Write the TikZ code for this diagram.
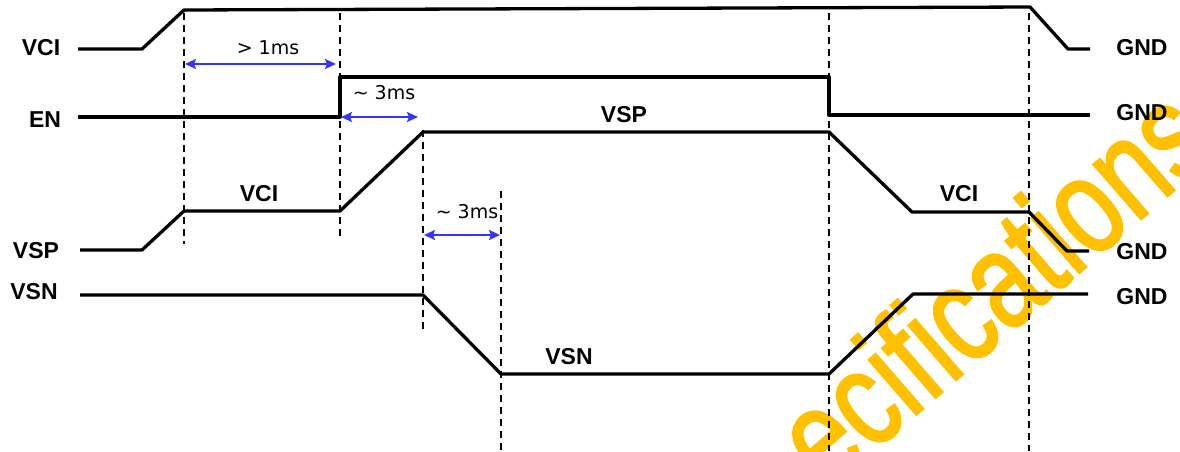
\documentclass[tikz,border=0pt]{standalone}
\usepackage{fontspec}
\setmainfont{Liberation Sans}
\newfontfamily\dejavu{DejaVu Sans}
\usetikzlibrary{arrows.meta}
\definecolor{arrowblue}{HTML}{3535FF}
\definecolor{wmark}{HTML}{FFC000}
\newcommand{\heavytext}[1]{\special{pdf:literal direct 2 Tr 2 w}#1\special{pdf:literal direct 0 Tr}}
\begin{document}
\begin{tikzpicture}[x=1pt,y=-1pt,
  sig/.style={line width=3.3pt, line join=round},
  guide/.style={line width=2pt, dash pattern=on 7pt off 5pt},
  dim/.style={arrowblue, line width=2pt, {Stealth[length=11pt,width=10pt,inset=2pt]}-{Stealth[length=11pt,width=10pt,inset=2pt]}},
  lbl/.style={font=\bfseries\fontsize{23}{23}\selectfont, inner sep=0pt},
  tlbl/.style={font=\dejavu\fontsize{19}{19}\selectfont, inner sep=0pt},
  wm/.style={font=\fontsize{105}{105}\selectfont, text=wmark, inner sep=0pt}]
\useasboundingbox (0,0) rectangle (1180,451);
% watermark
\begin{scope}
  \clip (0,0) rectangle (1180,451);
  \begin{scope}[shift={(827,492)}, rotate=41, yscale=1.3]
    \node[wm, anchor=base west, transform shape] (wmtext) at (0,0) {\heavytext{ecifications}};
  \end{scope}
\end{scope}
% signal labels
\node[lbl] (lvci) at (41,48) {VCI};
\node[lbl] (len) at (45,120) {EN};
\node[lbl] (lvsp) at (36,251) {VSP};
\node[lbl] (lvsn) at (34,292) {VSN};
\node[lbl] (g1) at (1142,48) {GND};
\node[lbl] (g2) at (1142,113) {GND};
\node[lbl] (g3) at (1142,252) {GND};
\node[lbl] (g4) at (1142,297) {GND};
\node[lbl] (tvsp) at (624,115) {VSP};
\node[lbl] (tvci1) at (259,194) {VCI};
\node[lbl] (tvci2) at (959,194) {VCI};
\node[lbl] (tvsn) at (569,357) {VSN};
% guide lines
\coordinate (d1t) at (184,13);  \coordinate (d1b) at (184,244);
\coordinate (d2t) at (340,13);  \coordinate (d2b) at (340,240);
\coordinate (d3t) at (423,130); \coordinate (d3b) at (423,329);
\coordinate (d4t) at (501,191); \coordinate (d4b) at (501,451);
\coordinate (d5t) at (829,13);  \coordinate (d5b) at (829,451);
\coordinate (d6t) at (1029,13); \coordinate (d6b) at (1029,451);
\foreach \i in {1,...,6} \draw[guide] (d\i t) -- (d\i b);
% signals
\draw[sig] (78,49) -- (142,49) -- (184,10) -- (1030,7) -- (1068,49) -- (1090,49);
\draw[sig] (78,117) -- (340,117) -- (340,77) -- (829,77) -- (829,115) -- (1090,115);
\draw[sig] (80,250) -- (142,250) -- (184,211) -- (340,211) -- (423,132) -- (829,132)
  -- (912,212) -- (1029,212) -- (1067,251) -- (1089,251);
\draw[sig] (80,295) -- (423,295) -- (501,374) -- (829,374) -- (913,294) -- (1088,294);
% timing arrows
\coordinate (a1l) at (185,64);  \coordinate (a1r) at (336,64);
\coordinate (a2l) at (341,117); \coordinate (a2r) at (418,117);
\coordinate (a3l) at (424,235); \coordinate (a3r) at (500,235);
\draw[dim] (a1l) -- (a1r);
\draw[dim] (a2l) -- (a2r);
\draw[dim] (a3l) -- (a3r);
\node[tlbl] (t1) at (268,48) {> 1ms};
\node[tlbl] (t2) at (384,93) {\char"7E{} 3ms};
\node[tlbl] (t3) at (467,212) {\char"7E{} 3ms};
\end{tikzpicture}
\end{document}
